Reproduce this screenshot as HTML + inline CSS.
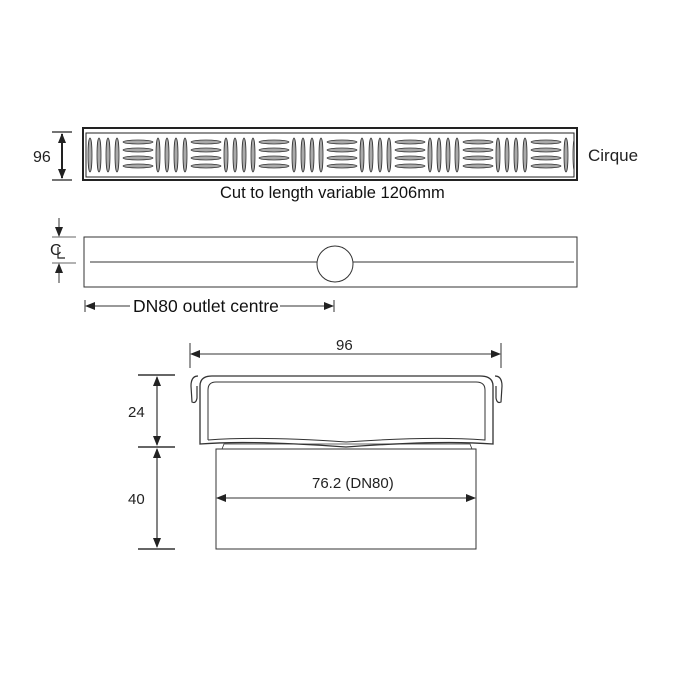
<!DOCTYPE html><html><head><style>body{margin:0;background:#fff}svg{display:block}</style></head><body>
<svg width="675" height="675" viewBox="0 0 675 675" xmlns="http://www.w3.org/2000/svg" font-family="Liberation Sans, sans-serif">
<defs>
<marker id="a" markerWidth="10" markerHeight="10" refX="9" refY="5" orient="auto-start-reverse" markerUnits="userSpaceOnUse"><path d="M0,1 L10,5 L0,9 Z" fill="#222"/></marker>
<g id="p">
<ellipse cx="7" cy="155" rx="2" ry="17" fill="#aaa" stroke="#333" stroke-width="0.8"/>
<ellipse cx="16" cy="155" rx="2" ry="17" fill="#aaa" stroke="#333" stroke-width="0.8"/>
<ellipse cx="25" cy="155" rx="2" ry="17" fill="#aaa" stroke="#333" stroke-width="0.8"/>
<ellipse cx="34" cy="155" rx="2" ry="17" fill="#aaa" stroke="#333" stroke-width="0.8"/>
<ellipse cx="55" cy="142" rx="15" ry="2" fill="#aaa" stroke="#333" stroke-width="0.8"/>
<ellipse cx="55" cy="150" rx="15" ry="2" fill="#aaa" stroke="#333" stroke-width="0.8"/>
<ellipse cx="55" cy="158" rx="15" ry="2" fill="#aaa" stroke="#333" stroke-width="0.8"/>
<ellipse cx="55" cy="166" rx="15" ry="2" fill="#aaa" stroke="#333" stroke-width="0.8"/>
</g>
<clipPath id="c"><rect x="86" y="133" width="488" height="44"/></clipPath>
</defs>
<!-- grate -->
<rect x="83" y="128" width="494" height="52" fill="#fff" stroke="#222" stroke-width="2"/>
<rect x="86" y="133" width="488" height="44" fill="none" stroke="#222" stroke-width="1"/>
<g clip-path="url(#c)">
<use href="#p" x="83"/><use href="#p" x="151"/><use href="#p" x="219"/><use href="#p" x="287"/><use href="#p" x="355"/><use href="#p" x="423"/><use href="#p" x="491"/><use href="#p" x="559"/>
</g>
<line x1="52" y1="132" x2="72" y2="132" stroke="#222" stroke-width="1.2"/>
<line x1="52" y1="180" x2="72" y2="180" stroke="#222" stroke-width="1.2"/>
<line x1="62" y1="134" x2="62" y2="178" stroke="#222" stroke-width="2" marker-start="url(#a)" marker-end="url(#a)"/>
<text x="33" y="162" font-size="16" fill="#222">96</text>
<text x="588" y="161" font-size="17" fill="#222">Cirque</text>
<text x="220" y="198" font-size="16.5" fill="#111">Cut to length variable 1206mm</text>
<!-- plan -->
<rect x="84" y="237" width="493" height="50" fill="#fff" stroke="#333" stroke-width="1"/>
<line x1="90" y1="262" x2="574" y2="262" stroke="#333" stroke-width="1"/>
<circle cx="335" cy="264" r="18" fill="#fff" stroke="#333" stroke-width="1"/>
<line x1="59" y1="218" x2="59" y2="236" stroke="#333" stroke-width="1" marker-end="url(#a)"/>
<line x1="59" y1="283" x2="59" y2="264" stroke="#333" stroke-width="1" marker-end="url(#a)"/>
<line x1="52" y1="237" x2="76" y2="237" stroke="#333" stroke-width="0.8"/>
<line x1="52" y1="263" x2="76" y2="263" stroke="#333" stroke-width="0.8"/>
<text x="50" y="255" font-size="16" fill="#222">C</text>
<path d="M58 247 L58 258 L65 258" fill="none" stroke="#222" stroke-width="1.2"/>
<line x1="85" y1="300" x2="85" y2="312" stroke="#333"/>
<line x1="334" y1="300" x2="334" y2="312" stroke="#333"/>
<line x1="86" y1="306" x2="333" y2="306" stroke="#333" stroke-width="1" marker-start="url(#a)" marker-end="url(#a)"/>
<rect x="130" y="298" width="150" height="10" fill="#fff"/>
<text x="133" y="312" font-size="17.5" fill="#111">DN80 outlet centre</text>
<!-- section -->
<line x1="190" y1="343" x2="190" y2="368" stroke="#333"/>
<line x1="501" y1="343" x2="501" y2="368" stroke="#333"/>
<line x1="191" y1="354" x2="500" y2="354" stroke="#333" stroke-width="1" marker-start="url(#a)" marker-end="url(#a)"/>
<text x="336" y="350" font-size="15" fill="#222">96</text>
<line x1="138" y1="375" x2="175" y2="375" stroke="#333" stroke-width="1.5"/>
<line x1="138" y1="447" x2="175" y2="447" stroke="#333" stroke-width="1.5"/>
<line x1="138" y1="549" x2="175" y2="549" stroke="#333" stroke-width="1.5"/>
<line x1="157" y1="377" x2="157" y2="445" stroke="#333" stroke-width="1.2" marker-start="url(#a)" marker-end="url(#a)"/>
<line x1="157" y1="449" x2="157" y2="547" stroke="#333" stroke-width="1.2" marker-start="url(#a)" marker-end="url(#a)"/>
<text x="128" y="417" font-size="15" fill="#222">24</text>
<text x="128" y="504" font-size="15" fill="#222">40</text>
<rect x="216" y="449" width="260" height="100" fill="#fff" stroke="#333" stroke-width="1"/>
<path d="M222 449 L224 444 L470 444 L472 449" fill="none" stroke="#333" stroke-width="0.8"/>
<path d="M198 376 Q191 376 191 386 L192 402 Q196 404 197 398 L197 386" fill="none" stroke="#333" stroke-width="1.2"/>
<path d="M495 376 Q502 376 502 386 L501 402 Q497 404 496 398 L496 386" fill="none" stroke="#333" stroke-width="1.2"/>
<path d="M200 444 L200 386 Q200 376 212 376 L480 376 Q493 376 493 386 L493 444 Q440 440 346 447 Q250 440 200 444 Z" fill="none" stroke="#333" stroke-width="1.3"/>
<path d="M208 440 L208 390 Q208 382 216 382 L476 382 Q485 382 485 390 L485 440 Q430 436 346 442 Q260 436 208 440" fill="none" stroke="#333" stroke-width="1"/>
<line x1="217" y1="498" x2="475" y2="498" stroke="#333" stroke-width="1" marker-start="url(#a)" marker-end="url(#a)"/>
<text x="312" y="488" font-size="15" fill="#222">76.2 (DN80)</text>
</svg>
</body></html>
